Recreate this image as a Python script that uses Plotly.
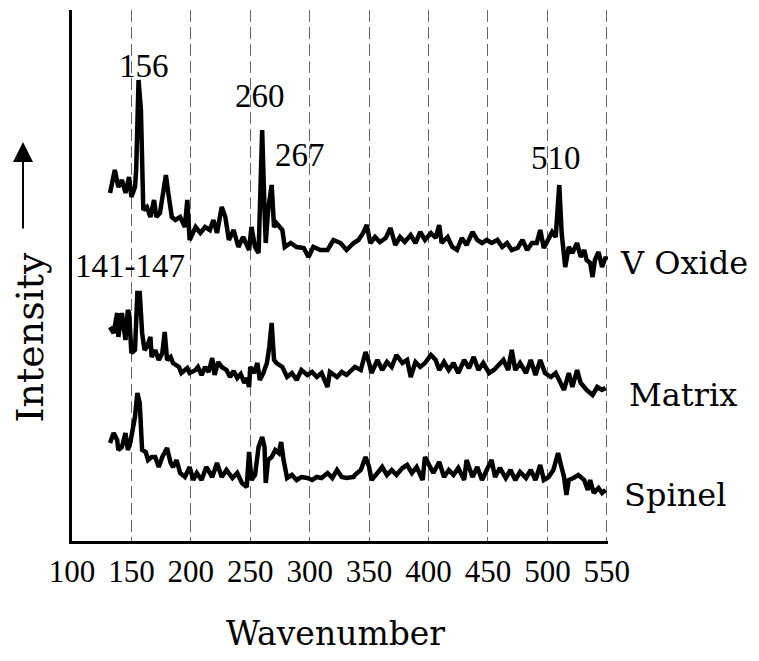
import plotly.graph_objects as go

# ---- data (wavenumber, relative intensity with vertical offset per spectrum) ----
vox_x = [132, 136, 139, 142, 145, 148, 150, 153, 154, 155, 156, 158, 159, 160, 163, 166, 169, 171, 174, 177,
         179, 181, 184, 187, 191, 195, 197, 199, 204, 208, 212, 216, 219, 222, 226, 229, 232, 236, 240, 244,
         249, 251, 254, 257, 258, 260, 262, 263, 265, 268, 270, 272, 277, 279, 284, 289, 295, 299, 303, 309,
         315, 320, 326, 331, 337, 341, 345, 348, 351, 355, 359, 364, 368, 372, 376, 380, 385, 389, 393, 397,
         402, 406, 409, 411, 416, 420, 424, 428, 432, 437, 441, 445, 449, 453, 458, 462, 466, 470, 475, 479,
         483, 487, 491, 494, 497, 501, 504, 507, 510, 512, 515, 518, 521, 525, 528, 531, 533, 536, 538, 540,
         543, 546, 549, 550]
vox_y = [348, 371, 354, 361, 348, 364, 344, 354, 371, 431, 461, 431, 371, 331, 334, 324, 341, 324, 328, 351,
         366, 348, 324, 321, 324, 314, 341, 301, 314, 308, 314, 311, 321, 308, 334, 324, 301, 311, 294, 304,
         291, 314, 294, 288, 341, 411, 331, 298, 331, 356, 314, 318, 311, 294, 298, 294, 293, 284, 294, 291,
         291, 301, 298, 291, 298, 301, 308, 316, 298, 304, 299, 303, 313, 296, 304, 299, 306, 298, 309, 301,
         308, 303, 316, 298, 304, 294, 291, 303, 296, 309, 301, 298, 301, 298, 301, 294, 298, 291, 293, 301,
         291, 298, 298, 311, 293, 301, 309, 304, 356, 308, 274, 294, 288, 298, 284, 291, 281, 278, 264, 281,
         289, 274, 284, 281]

mat_x = [132, 135, 138, 139, 142, 145, 147, 148, 150, 153, 155, 157, 159, 161, 163, 166, 167, 170, 173, 176,
         178, 180, 183, 185, 190, 192, 197, 199, 204, 206, 209, 212, 215, 218, 220, 223, 226, 230, 233, 236,
         239, 242, 245, 247, 249, 250, 253, 256, 258, 261, 264, 266, 268, 270, 272, 277, 281, 285, 289, 293,
         298, 302, 306, 310, 315, 317, 323, 327, 331, 337, 338, 343, 347, 350, 352, 357, 361, 365, 369, 373,
         378, 382, 385, 389, 393, 397, 402, 406, 409, 413, 417, 421, 425, 430, 434, 438, 442, 446, 451, 455,
         459, 463, 467, 470, 473, 477, 482, 486, 490, 494, 498, 503, 507, 511, 514, 518, 521, 525, 528, 531,
         533, 538, 542, 546, 549]
mat_y = [214, 208, 228, 204, 228, 201, 231, 228, 188, 191, 248, 248, 208, 191, 194, 204, 184, 191, 181, 188,
         209, 181, 184, 178, 174, 168, 173, 168, 171, 174, 166, 174, 169, 183, 166, 179, 174, 171, 164, 170,
         163, 167, 158, 163, 154, 174, 168, 178, 161, 168, 178, 194, 218, 181, 178, 174, 164, 168, 161, 171,
         166, 169, 164, 168, 154, 169, 164, 169, 166, 174, 174, 171, 189, 178, 168, 181, 171, 179, 174, 186,
         178, 181, 164, 179, 174, 178, 186, 181, 171, 179, 171, 178, 168, 181, 173, 184, 171, 178, 168, 171,
         176, 181, 171, 191, 171, 178, 168, 181, 166, 181, 168, 164, 168, 159, 151, 168, 154, 171, 158, 154,
         151, 146, 154, 151, 153]

spi_x = [132, 135, 138, 139, 142, 145, 147, 149, 151, 153, 155, 157, 159, 162, 164, 167, 170, 173, 176, 180,
         183, 185, 188, 191, 195, 199, 202, 205, 209, 213, 218, 222, 226, 230, 235, 239, 243, 247, 249, 251,
         254, 257, 260, 262, 263, 265, 268, 271, 274, 276, 278, 281, 285, 289, 293, 298, 302, 306, 310, 315,
         319, 323, 327, 331, 337, 338, 343, 347, 350, 352, 357, 361, 365, 369, 373, 378, 382, 386, 390, 395,
         397, 400, 404, 409, 413, 417, 421, 425, 430, 432, 437, 441, 445, 449, 453, 456, 460, 465, 469, 473,
         477, 482, 486, 490, 494, 497, 501, 505, 509, 511, 514, 516, 518, 522, 526, 531, 534, 536, 539, 543,
         546, 549]
spi_y = [98, 108, 101, 91, 94, 108, 91, 98, 111, 124, 148, 138, 91, 89, 81, 84, 84, 74, 84, 93,
         78, 74, 81, 68, 64, 74, 61, 68, 61, 74, 64, 78, 64, 71, 63, 68, 58, 54, 89, 61,
         66, 94, 104, 94, 58, 81, 84, 91, 88, 99, 81, 63, 66, 61, 64, 63, 61, 64, 63, 68,
         63, 71, 64, 63, 64, 66, 71, 84, 74, 61, 68, 74, 66, 71, 66, 73, 76, 68, 74, 61,
         84, 78, 68, 79, 64, 71, 66, 73, 61, 81, 64, 74, 61, 71, 81, 64, 73, 63, 71, 61,
         69, 63, 71, 61, 76, 61, 64, 71, 88, 78, 64, 46, 61, 63, 66, 61, 51, 61, 48, 53,
         48, 51]

x_ticks = [100, 150, 200, 250, 300, 350, 400, 450, 500, 550]
peak_labels = [("156", 160.6, 475), ("260", 258.3, 445), ("267", 292.0, 386),
               ("510", 507.6, 383), ("141-147", 148.8, 275)]
series_names = [("V Oxide", 1.0187, 0.5235), ("Matrix", 1.0354, 0.275), ("Spinel", 1.0261, 0.0866)]

NUM_FONT = "Liberation Serif"
WORD_FONT = "DejaVu Serif"

fig = go.Figure()
for xs, ys in [(vox_x, vox_y), (mat_x, mat_y), (spi_x, spi_y)]:
    fig.add_trace(go.Scatter(x=xs, y=ys, mode="lines",
                             line=dict(color="black", width=4.5),
                             showlegend=False, hoverinfo="skip"))

annotations = []
for txt, xv, yv in peak_labels:
    annotations.append(dict(x=xv, y=yv, xref="x", yref="y", text=txt, showarrow=False,
                            font=dict(family=NUM_FONT, size=33, color="black"),
                            xanchor="center", yanchor="middle"))
for txt, xv, yv in series_names:
    annotations.append(dict(x=xv, y=yv, xref="paper", yref="paper", text=txt, showarrow=False,
                            font=dict(family=WORD_FONT, size=32, color="black"),
                            xanchor="left", yanchor="middle"))
annotations.append(dict(x=-0.0784, y=0.385, xref="paper", yref="paper", text="Intensity",
                        showarrow=False, textangle=-90,
                        font=dict(family=WORD_FONT, size=38, color="black"),
                        xanchor="center", yanchor="middle"))
annotations.append(dict(x=0.4907, y=-0.175, xref="paper", yref="paper", text="Wavenumber",
                        showarrow=False, font=dict(family=WORD_FONT, size=33, color="black"),
                        xanchor="center", yanchor="middle"))
annotations.append(dict(x=-0.0914, y=0.7514, xref="paper", yref="paper", text="", showarrow=True,
                        ax=0, ay=88, axref="pixel", ayref="pixel",
                        arrowhead=2, arrowsize=2.0, arrowwidth=2, arrowcolor="black"))

fig.update_layout(
    width=759, height=661,
    margin=dict(l=72, r=151, t=10, b=120),
    paper_bgcolor="white", plot_bgcolor="white",
    annotations=annotations,
    xaxis=dict(range=[100, 551], tickvals=x_ticks, ticktext=[str(v) for v in x_ticks],
               showline=True, linecolor="black", linewidth=3, ticks="",
               ticklabelstandoff=1,
               tickfont=dict(family=NUM_FONT, size=31, color="black"),
               showgrid=True, gridcolor="#666666", gridwidth=1.2, griddash="12px,5px",
               zeroline=False),
    yaxis=dict(range=[0, 531], showline=True, linecolor="black", linewidth=2.5,
               showticklabels=False, ticks="", showgrid=False, zeroline=False),
)

fig.write_html("out.html")
